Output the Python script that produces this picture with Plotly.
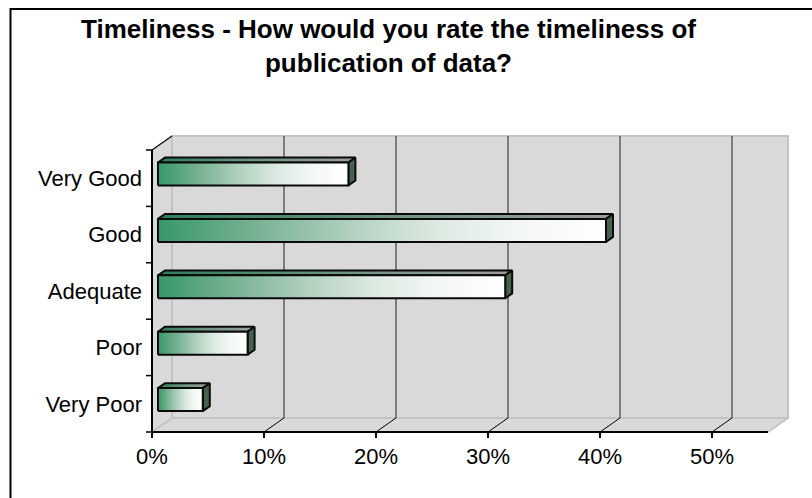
import plotly.graph_objects as go

# Survey responses: "How would you rate the timeliness of publication of data?"
categories = ["Very Poor", "Poor", "Adequate", "Good", "Very Good"]
shares = [4, 8, 31, 40, 17]          # percent of respondents
x_ticks = [0, 10, 20, 30, 40, 50]
x_tick_labels = ["0%", "10%", "20%", "30%", "40%", "50%"]

TITLE = "Timeliness - How would you rate the timeliness of<br>publication of data?"

# ---- canvas / 3-D box geometry ------------------------------------------
W, H = 812, 498
PX_PER_PCT = 11.2          # horizontal pixels per percentage point
PX_PER_CAT = 56.4          # vertical pixels per category band
ORIGIN_X, ORIGIN_Y = 152, 432   # front-floor corner (0 %, bottom of first band)
L, R, T, B = 140, 800, 128, 442  # plotting rectangle in pixels
AXIS_MAX = 55
DX = 20 / PX_PER_PCT       # depth of the box, in axis units
DY = 14 / PX_PER_CAT
BAR_H = 23 / PX_PER_CAT    # bar thickness
F_FRONT, F_BACK = 0.3, 0.65  # depth position of bar front / back faces

WALL = "#d9d9d9"
EDGE = "#c3c3c3"
GRID = "#3c3c3c"
FONT = "Liberation Sans, Arial, sans-serif"

x_range = [(L - ORIGIN_X) / PX_PER_PCT, (R - ORIGIN_X) / PX_PER_PCT]
y_lo, y_hi = -0.5, len(categories) - 0.5
y_range = [y_lo - (B - ORIGIN_Y) / PX_PER_CAT, y_lo + (ORIGIN_Y - T) / PX_PER_CAT]


def px_x(px):
    return (px - L) / (R - L)


def px_y(py):
    return (B - py) / (B - T)


def seg(x0, y0, x1, y1, color, width, ref="x"):
    return dict(type="line", xref=ref, yref=ref.replace("x", "y"),
                x0=x0, y0=y0, x1=x1, y1=y1, layer="below",
                line=dict(color=color, width=width))


def poly(points):
    return "M " + " L ".join(f"{x},{y}" for x, y in points) + " Z"


shapes = []
# side wall, floor and back wall of the box
shapes.append(dict(type="path", xref="x", yref="y", layer="below", fillcolor=WALL,
                   line=dict(width=0),
                   path=poly([(0, y_lo), (0, y_hi), (DX, y_hi + DY), (DX, y_lo + DY)])))
shapes.append(dict(type="path", xref="x", yref="y", layer="below", fillcolor=WALL,
                   line=dict(width=0),
                   path=poly([(0, y_lo), (AXIS_MAX, y_lo), (AXIS_MAX + DX, y_lo + DY),
                              (DX, y_lo + DY)])))
shapes.append(dict(type="rect", xref="x", yref="y", layer="below", fillcolor=WALL,
                   x0=DX, x1=AXIS_MAX + DX, y0=y_lo + DY, y1=y_hi + DY,
                   line=dict(color=EDGE, width=2)))
shapes.append(seg(0, y_lo, DX, y_lo + DY, EDGE, 2))
shapes.append(seg(AXIS_MAX, y_lo, AXIS_MAX + DX, y_lo + DY, EDGE, 2))

# value gridlines: up the back wall and across the floor
for v in x_ticks[1:]:
    shapes.append(seg(v + DX, y_lo + DY, v + DX, y_hi + DY, GRID, 1.2))
    shapes.append(seg(v, y_lo, v + DX, y_lo + DY, "#000000", 1))

# front axis lines and the top-left box edge
shapes.append(seg(0, y_hi, DX, y_hi + DY, "#000000", 1.2))
shapes.append(seg(0, y_lo, 0, y_hi, "#000000", 2))
shapes.append(seg(0, y_lo, AXIS_MAX, y_lo, "#000000", 2))

# category-boundary tick marks on the vertical axis
for i in range(len(categories) + 1):
    b = y_lo + i
    shapes.append(seg(-6 / PX_PER_PCT, b, 0, b, "#000000", 1.5))

# outer chart frame
shapes.append(dict(type="path", xref="paper", yref="paper", layer="above",
                   path=f"M {px_x(10.5)},{px_y(520)} L {px_x(10.5)},{px_y(9)} "
                        f"L {px_x(830)},{px_y(9)}",
                   line=dict(color="#000000", width=2)))

FRONT_SCALE = [[0.0, "#379868"], [0.22, "#78b293"], [0.45, "#b6d3c2"],
               [0.62, "#dce9e1"], [0.8, "#f3f7f4"], [1.0, "#ffffff"]]
TOP_SCALE = [[0.0, "#2e7d57"], [0.5, "#6d9482"], [1.0, "#9d9d9d"]]
SIDE_COLOR = "#46624f"
OUTLINE = dict(color="#0a0a0a", width=2)

fig = go.Figure()
for i, (cat, v) in enumerate(zip(categories, shares)):
    xf0, xb0 = F_FRONT * DX, F_BACK * DX
    xf1, xb1 = v + xf0, v + xb0
    yf0 = i - BAR_H / 2 + F_FRONT * DY
    yf1 = i + BAR_H / 2 + F_FRONT * DY
    yb0 = i - BAR_H / 2 + F_BACK * DY
    yb1 = i + BAR_H / 2 + F_BACK * DY
    # top face
    fig.add_trace(go.Scatter(
        x=[xf0, xf1, xb1, xb0, xf0], y=[yf1, yf1, yb1, yb1, yf1],
        mode="lines", fill="toself", line=OUTLINE,
        fillgradient=dict(type="horizontal", colorscale=TOP_SCALE),
        hoverinfo="skip", showlegend=False))
    # end face
    fig.add_trace(go.Scatter(
        x=[xf1, xb1, xb1, xf1, xf1], y=[yf0, yb0, yb1, yf1, yf0],
        mode="lines", fill="toself", fillcolor=SIDE_COLOR, line=OUTLINE,
        hoverinfo="skip", showlegend=False))
    # front face
    fig.add_trace(go.Scatter(
        x=[xf0, xf1, xf1, xf0, xf0], y=[yf0, yf0, yf1, yf1, yf0],
        mode="lines", fill="toself", line=OUTLINE,
        fillgradient=dict(type="horizontal", colorscale=FRONT_SCALE),
        name=cat, hovertemplate=f"{cat}: {v}%<extra></extra>", showlegend=False))

fig.update_layout(
    width=W, height=H,
    margin=dict(l=L, r=W - R, t=T, b=H - B, pad=0),
    paper_bgcolor="#ffffff", plot_bgcolor="#ffffff",
    font=dict(family=FONT, color="#000000", size=22),
    annotations=[dict(text=f"<b>{TITLE}</b>", xref="paper", yref="paper",
                      x=px_x(388), xanchor="center", y=px_y(12), yanchor="top",
                      showarrow=False, align="center",
                      font=dict(family=FONT, size=26, color="#000000"))],
    shapes=shapes,
    showlegend=False,
    xaxis=dict(range=x_range, tickvals=x_ticks, ticktext=x_tick_labels,
               ticks="outside", ticklen=5, tickwidth=1.5, tickcolor="#000000",
               showgrid=False, zeroline=False, showline=False,
               anchor="free", position=px_y(ORIGIN_Y), fixedrange=True),
    yaxis=dict(range=y_range, tickvals=list(range(len(categories))), ticktext=categories,
               ticks="", showgrid=False, zeroline=False, showline=False,
               anchor="free", position=px_x(ORIGIN_X), ticklabelstandoff=10,
               fixedrange=True),
)

fig.write_html("out.html")
